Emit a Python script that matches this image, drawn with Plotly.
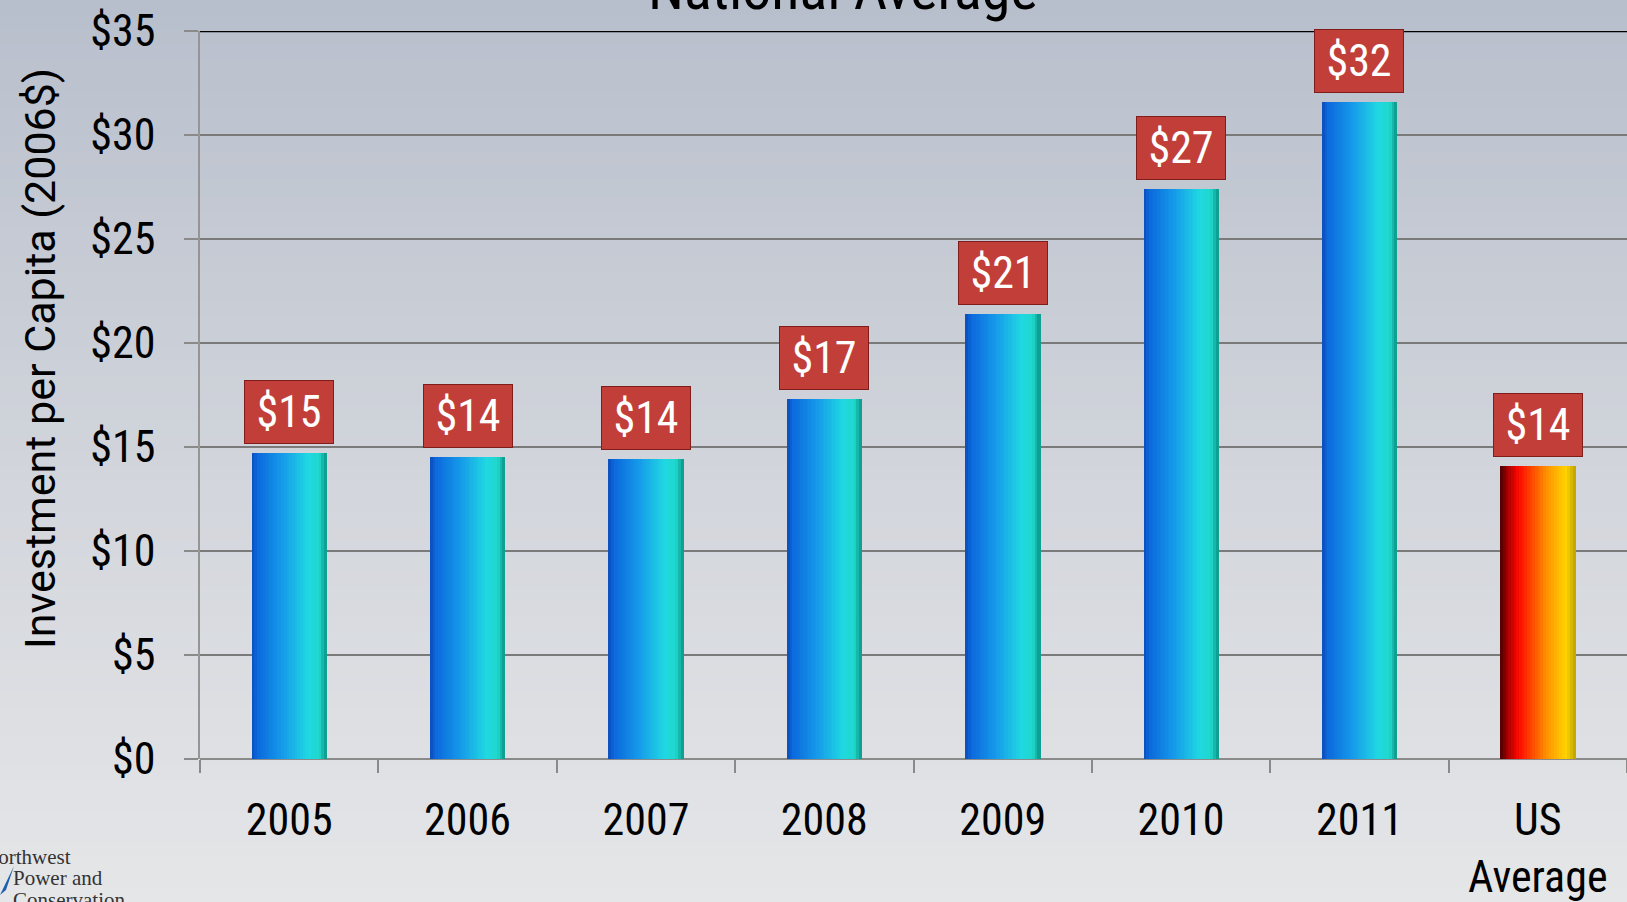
import plotly.graph_objects as go

# ---- data ----
categories = ["2005", "2006", "2007", "2008", "2009", "2010", "2011", "US<br>Average"]
values = [14.7, 14.5, 14.4, 17.3, 21.4, 27.4, 31.6, 14.1]
labels = ["$15", "$14", "$14", "$17", "$21", "$27", "$32", "$14"]
y_ticks = [0, 5, 10, 15, 20, 25, 30, 35]
y_tick_labels = ["$0", "$5", "$10", "$15", "$20", "$25", "$30", "$35"]

W, H = 1627, 902
L, R, T, B = 200, 0, 31, 143
PW, PH = W - L - R, H - T - B
FONT = "Liberation Sans Narrow, Arial Narrow, Roboto Condensed, Liberation Sans, sans-serif"
TFONT = "Roboto, Liberation Sans, sans-serif"


def hex2rgb(h):
    h = h.lstrip("#")
    return tuple(int(h[i:i + 2], 16) for i in (0, 2, 4))


def interp(stops, t):
    for (t0, c0), (t1, c1) in zip(stops, stops[1:]):
        if t0 <= t <= t1:
            f = 0 if t1 == t0 else (t - t0) / (t1 - t0)
            a, b = hex2rgb(c0), hex2rgb(c1)
            return "rgb(%d,%d,%d)" % tuple(round(a[k] + (b[k] - a[k]) * f) for k in range(3))
    return stops[-1][1]


def px_x(x):
    return (x - L) / PW


def px_y(y):
    return (H - B - y) / PH


blue_stops = [(0, "#0a4cb8"), (0.07, "#0b68dc"), (0.4, "#1599ea"), (0.75, "#20d8e2"),
              (0.9, "#1fd8cc"), (1, "#0c9488")]
red_stops = [(0, "#4a0000"), (0.1, "#a80000"), (0.25, "#ff0a00"), (0.45, "#ff5200"),
             (0.65, "#ff9c00"), (0.88, "#ffd400"), (1, "#b8a000")]

fig = go.Figure()

N = 28
bw = 0.42
for i in range(N):
    t = (i + 0.5) / N
    cols = [interp(red_stops, t) if c.startswith("US") else interp(blue_stops, t) for c in categories]
    fig.add_trace(go.Bar(
        x=categories, y=values, width=bw / N + 0.002, offset=-bw / 2 + i * bw / N,
        marker=dict(color=cols, line=dict(width=0)), hoverinfo="skip", showlegend=False,
    ))

# label boxes
for idx, (v, lab) in enumerate(zip(values, labels)):
    fig.add_annotation(x=idx, y=v, text=lab, showarrow=False, yanchor="bottom", yshift=9,
                       font=dict(family=FONT, size=44, color="white"),
                       bgcolor="#c23e39", bordercolor="#7e1d1a", borderwidth=1,
                       width=84, height=58, borderpad=2)

# title (cut off at the top)
fig.add_annotation(x=px_x(843), y=px_y(25), xref="paper", yref="paper",
                   text="National Average", showarrow=False, yanchor="bottom",
                   font=dict(family=FONT, size=58, color="black"))

# y axis title
fig.add_annotation(x=px_x(40), y=px_y(359), xref="paper", yref="paper",
                   text="Investment per Capita (2006$)", showarrow=False, textangle=-90,
                   xanchor="center", yanchor="middle",
                   font=dict(family=TFONT, size=43, color="black"))

# logo text
logo_font = dict(family="Liberation Serif", size=21, color="#333333")
fig.add_annotation(x=px_x(-19), y=px_y(857), xref="paper", yref="paper", text="Northwest",
                   showarrow=False, xanchor="left", yanchor="middle", font=logo_font)
fig.add_annotation(x=px_x(11), y=px_y(878), xref="paper", yref="paper", text="Power and",
                   showarrow=False, xanchor="left", yanchor="middle", font=logo_font)
fig.add_annotation(x=px_x(11), y=px_y(900), xref="paper", yref="paper", text="Conservation",
                   showarrow=False, xanchor="left", yanchor="middle", font=logo_font)

# background gradient
NS = 60
shapes = []
for k in range(NS):
    y0 = -B / PH + (H / PH) * k / NS
    y1 = -B / PH + (H / PH) * (k + 1) / NS + 0.002
    t = 1 - (k + 0.5) / NS
    shapes.append(dict(type="rect", xref="paper", yref="paper", x0=-L / PW, x1=1.01,
                       y0=y0, y1=y1,
                       fillcolor=interp([(0, "#b8bfcc"), (0.55, "#d3d6dc"), (1, "#e5e6e8")], t),
                       line=dict(width=0), layer="below"))
# logo swoosh
shapes.append(dict(type="path", xref="paper", yref="paper",
                   path="M %f,%f L %f,%f L %f,%f Z" % (px_x(0), px_y(895), px_x(14), px_y(866),
                                                     px_x(6), px_y(890)),
                   fillcolor="#1f5fb0", line=dict(width=0), layer="above"))
# top border line at $35
shapes.append(dict(type="line", xref="paper", yref="y", x0=0, x1=1, y0=35, y1=35,
                   line=dict(color="black", width=2.5), layer="above"))

fig.update_layout(
    width=W, height=H, margin=dict(l=L, r=R, t=T, b=B, pad=0),
    paper_bgcolor="#e5e6e8", plot_bgcolor="rgba(0,0,0,0)",
    barmode="overlay", bargap=0, shapes=shapes,
    font=dict(family=FONT, color="black"),
    xaxis=dict(type="category", range=[-0.5, 7.5], tickson="boundaries", ticks="outside",
               ticklen=13, tickcolor="#8a8a8a", tickwidth=1.5, showline=False, showgrid=False,
               tickfont=dict(size=44, family=FONT), ticklabelstandoff=31),
    yaxis=dict(range=[0, 35], tickvals=y_ticks, ticktext=y_tick_labels, ticks="outside",
               ticklen=14, tickcolor="#8a8a8a", tickwidth=1.5, showline=True, linecolor="#959595",
               linewidth=1.5, showgrid=True, gridcolor="#7a7a7a", gridwidth=1.5,
               zeroline=True, zerolinecolor="#8a8a8a", zerolinewidth=1.5,
               tickfont=dict(size=44, family=FONT), ticklabelstandoff=20),
)

fig.write_html("out.html", config={"displayModeBar": False},
               post_script="document.body.style.margin='0';")
